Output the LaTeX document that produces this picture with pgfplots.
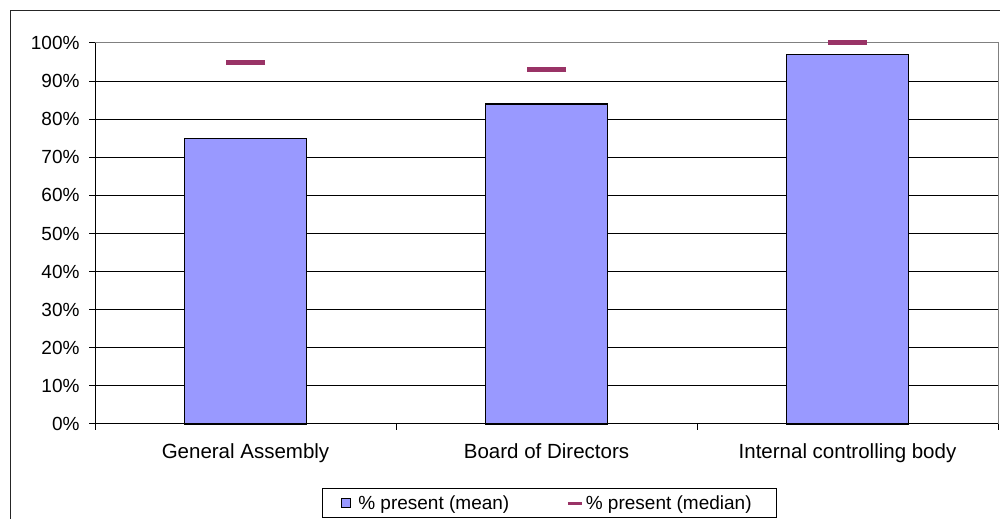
\documentclass[border=0pt]{standalone}
\usepackage{fontspec}
\setmainfont{Liberation Sans}
\usepackage{pgfplots}
\pgfplotsset{compat=1.18}
\definecolor{barblue}{HTML}{9999FF}
\definecolor{medcol}{HTML}{993366}
\definecolor{framegray}{HTML}{808080}
\newcommand\cf{\fontsize{19bp}{22bp}\selectfont}
\newcommand\xf{\fontsize{20.5bp}{24bp}\selectfont}
\begin{document}
\begin{tikzpicture}[x=1bp,y=1bp]
\useasboundingbox (0,0) rectangle (1000,519);
\clip (0,0) rectangle (1000,519);
\draw[line width=1bp, black!85] (10,-20) -- (10,508) -- (1020,508);
\begin{axis}[
  at={(95bp,95bp)}, anchor=south west,
  scale only axis, width=903bp, height=381bp,
  xmin=-0.5, xmax=2.5, ymin=0, ymax=100,
  clip=false,
  axis x line*=bottom, axis y line*=left,
  axis line style={line width=1bp, black},
  tick align=outside,
  major tick length=6bp,
  tick style={black, line width=1bp},
  ytick={0,10,...,100},
  yticklabel={\pgfmathprintnumber{\tick}\%},
  /pgf/number format/assume math mode=true,
  yticklabel style={font=\cf, xshift=-6bp},
  ymajorgrids,
  major grid style={black, line width=1bp},
  xtick={-0.5,0.5,1.5,2.5},
  xticklabels={},
  extra x ticks={0,1,2},
  extra x tick labels={General Assembly, Board of Directors, Internal controlling body},
  extra x tick style={major tick length=0pt},
  xticklabel style={font=\xf, yshift=-16bp},
  legend style={at={(axis description cs:0.2514,-0.168)}, anchor=north west,
    draw=black, line width=1bp, fill=white, font=\cf,
    inner xsep=18bp, inner ysep=7bp,
    /tikz/column 1/.style={column sep=8bp},
    /tikz/column 2/.style={column sep=57bp},
    /tikz/column 3/.style={column sep=2.5bp},
    nodes={inner sep=0bp}},
  legend columns=2,
]
\draw[framegray, line width=1bp] (rel axis cs:0,1) -- (rel axis cs:1,1) -- (rel axis cs:1,0);
\addplot[ybar, bar width=0.405, fill=barblue, draw=black, line width=1.2bp,
  legend image code/.code={\draw[fill=barblue, draw=black, line width=0.8bp] (0bp,-4.5bp) rectangle (9bp,4.5bp);}]
  coordinates {(0,75) (1,84) (2,97)};
\addlegendentry{\% present (mean)}
\addplot[only marks, mark=-, mark size=19.5bp, mark options={line width=5bp, medcol},
  legend image code/.code={\draw[medcol, line width=3bp] (0bp,0bp) -- (14bp,0bp);}]
  coordinates {(0,95) (1,93) (2,100)};
\addlegendentry{\% present (median)\rule{7bp}{0pt}}
\end{axis}
\end{tikzpicture}
\end{document}
